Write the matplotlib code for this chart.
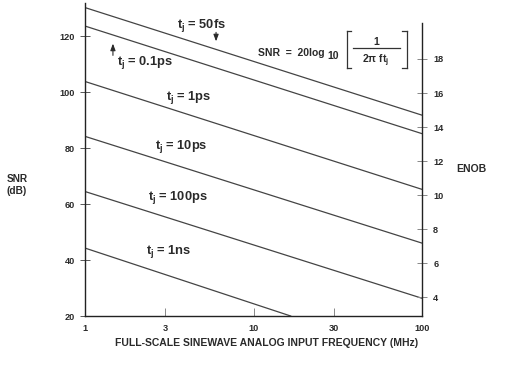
import matplotlib
matplotlib.use("Agg")
import matplotlib.pyplot as plt
from matplotlib.lines import Line2D

plt.rcParams["font.family"] = ["Liberation Sans", "DejaVu Sans"]
plt.rcParams["font.weight"] = "bold"
plt.rcParams["mathtext.fontset"] = "custom"
plt.rcParams["mathtext.rm"] = "Liberation Sans:bold"
plt.rcParams["mathtext.it"] = "Liberation Sans:bold"
plt.rcParams["mathtext.bf"] = "Liberation Sans:bold"

# jitter lines: SNR at 1 MHz and at the end frequency
jitter = ["50fs", "0.1ps", "1ps", "10ps", "100ps", "1ns"]
f_start = [1, 1, 1, 1, 1, 1]
f_end = [100, 100, 100, 100, 100, 16.6]
snr_start = [130.2, 123.6, 103.8, 84.2, 64.5, 44.3]
snr_end = [91.7, 85.1, 65.2, 46.0, 26.3, 20.0]

# label positions (MHz, dB)
label_f = [4.95, 2.29, 4.15, 3.75, 3.57, 3.14]
label_snr = [123.9, 110.4, 98.2, 80.4, 62.5, 42.9]

xticks = [1, 3, 10, 30, 100]
snr_ticks = [20, 40, 60, 80, 100, 120]
enob_ticks = [4, 6, 8, 10, 12, 14, 16, 18]

txt = "#2a2a2a"
line_c = "#444444"

fig = plt.figure(figsize=(5.1, 3.69), dpi=100)
ax = fig.add_axes([84.7 / 510, 1 - 316 / 369, (422.3 - 84.7) / 510, (316 - 3) / 369])

for i in range(len(jitter)):
    ax.plot([f_start[i], f_end[i]], [snr_start[i], snr_end[i]], color=line_c, lw=0.9)
    ax.text(label_f[i], label_snr[i], "$t_j$ = " + jitter[i], ha="center", va="center",
            fontsize=9.3, color=txt)

# arrows for the two top lines
ax.annotate("", xy=(6.0, 117.1), xytext=(6.0, 122.3),
            arrowprops=dict(arrowstyle="-|>,head_length=0.4,head_width=0.15", color=txt, lw=0.8))
ax.annotate("", xy=(1.47, 118.3), xytext=(1.47, 112.1),
            arrowprops=dict(arrowstyle="-|>,head_length=0.4,head_width=0.15", color=txt, lw=0.8))

ax.set_xscale("log")
ax.set_xlim(1, 100)
ax.set_ylim(20, 131.8)
ax.set_xticks(xticks)
ax.set_xticklabels([str(t) for t in xticks])
ax.minorticks_off()
ax.set_yticks(snr_ticks)
ax.tick_params(axis="x", direction="in", length=5.8, width=0.7, color="#888888",
               labelsize=6.6, labelcolor=txt, pad=6)
ax.tick_params(axis="y", direction="inout", length=7.2, width=0.7, color="#555555",
               labelsize=6.6, labelcolor=txt, pad=3.4)
ax.spines["top"].set_visible(False)
ax.spines["right"].set_visible(False)
for s in ["left", "bottom"]:
    ax.spines[s].set_linewidth(1.0)
    ax.spines[s].set_color("#222222")

ax2 = ax.twinx()
ax2.set_ylim(2.90, 21.29)
ax2.set_yticks(enob_ticks)
ax2.minorticks_off()
ax2.tick_params(axis="y", direction="inout", length=7.2, width=0.7, color="#888888",
                labelsize=6.6, labelcolor=txt, pad=4.2)
for s in ["top", "left", "bottom"]:
    ax2.spines[s].set_visible(False)
ax2.spines["right"].set_bounds(2.90, 20.1)
ax2.spines["right"].set_linewidth(1.0)
ax2.spines["right"].set_color("#222222")


def px(x, y):
    return x / 510, 1 - y / 369


fig.text(*px(6.5, 185), "SNR\n(dB)", ha="left", va="center", fontsize=7.3, color=txt,
         linespacing=1.25)
fig.text(*px(471, 169), "ENOB", ha="center", va="center", fontsize=7.5, color=txt)
fig.text(*px(267, 342.5), "FULL-SCALE SINEWAVE ANALOG INPUT FREQUENCY (MHz)", ha="center",
         va="center", fontsize=7.5, color=txt)

# formula box
fig.text(*px(258, 53), "SNR  =  20log", ha="left", va="center", fontsize=7.5, color=txt)
fig.text(*px(333.5, 56), "10", ha="center", va="center", fontsize=7.5, color=txt)
fig.text(*px(376, 42), "1", ha="center", va="center", fontsize=7.5, color=txt)
fig.text(*px(376, 61), "2π f$t_j$", ha="center", va="center", fontsize=7.5, color=txt)
frac = [((353, 400), (48, 48)),
        ((351.5, 346.7), (31, 31)), ((346.7, 346.7), (31, 68)), ((346.7, 351.5), (68, 68)),
        ((402, 406.7), (31, 31)), ((406.7, 406.7), (31, 68)), ((406.7, 402), (68, 68))]
for xs, ys in frac:
    fig.add_artist(Line2D([xs[0] / 510, xs[1] / 510], [1 - ys[0] / 369, 1 - ys[1] / 369],
                          transform=fig.transFigure, color="#333333", lw=0.9))

fig.savefig("out.png", dpi=100)
